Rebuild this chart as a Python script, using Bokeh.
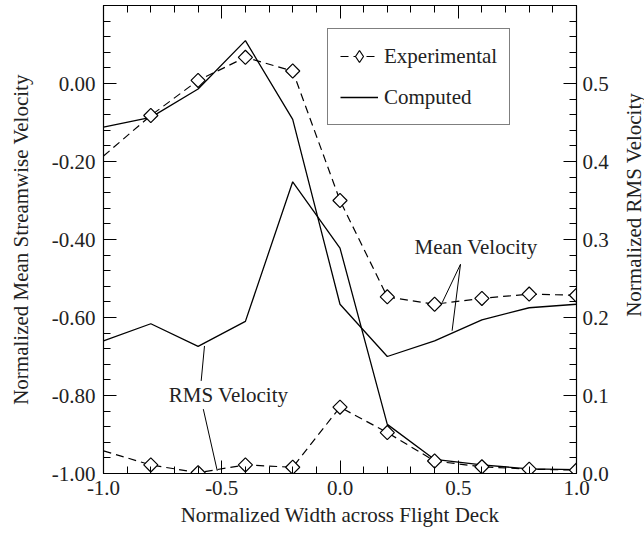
import math
from bokeh.plotting import figure
from bokeh.layouts import row
from bokeh.models import (Range1d, LinearAxis, FixedTicker, PrintfTickFormatter,
                          Legend, LegendItem)
from bokeh.embed import file_html
from bokeh.resources import INLINE
from bokeh.core.properties import value

# ---- data ----
x = [-1.0, -0.8, -0.6, -0.4, -0.2, 0.0, 0.2, 0.4, 0.6, 0.8, 1.0]
exp_mean = [-0.186, -0.082, 0.008, 0.067, 0.032, -0.300, -0.547, -0.566, -0.551, -0.540, -0.543]
comp_mean = [-0.112, -0.087, -0.014, 0.110, -0.092, -0.566, -0.700, -0.660, -0.606, -0.575, -0.566]
exp_rms = [0.029, 0.011, 0.001, 0.011, 0.008, 0.085, 0.0525, 0.016, 0.0086, 0.0056, 0.0044]
comp_rms = [0.170, 0.192, 0.163, 0.195, 0.374, 0.289, 0.063, 0.018, 0.011, 0.006, 0.005]
marker_x = x[1:]

# tick definitions
x_ticks = [-1.0, -0.5, 0.0, 0.5, 1.0]
x_minor = [round(-1.0 + 0.1 * i, 2) for i in range(21)]
left_ticks = [-1.0, -0.8, -0.6, -0.4, -0.2, 0.0]
left_minor = [round(-1.0 + 0.04 * i, 2) for i in range(31)]
right_ticks = [0.0, 0.1, 0.2, 0.3, 0.4, 0.5]
right_minor = [round(0.02 * i, 2) for i in range(31)]

# texts
x_title = "Normalized Width across Flight Deck"
left_title = "Normalized Mean Streamwise Velocity"
right_title = "Normalized RMS Velocity"
ann_text = ["Mean Velocity", "RMS Velocity"]
ann_x = [0.575, -0.471]
ann_y = [-0.419, -0.798]
ptr_x0 = [0.5095, 0.5095, -0.573, -0.578]
ptr_y0 = [-0.4636, -0.4636, -0.673, -0.835]
ptr_x1 = [0.432, 0.474, -0.587, -0.519]
ptr_y1 = [-0.562, -0.634, -0.7626, -0.993]

FONT = "Liberation Serif"
FS = "21px"
TXT = "#222222"

W_MAIN = 612
W_SIDE = 644 - W_MAIN
H = 533

p = figure(width=W_MAIN, height=H, x_range=Range1d(-1.0, 1.0), y_range=Range1d(-1.0, 0.2),
           output_backend="svg", toolbar_location=None,
           min_border_left=103, min_border_right=36, min_border_top=5, min_border_bottom=60)
p.extra_y_ranges = {"rms": Range1d(0.0, 0.6)}
p.xgrid.visible = False
p.ygrid.visible = False
p.outline_line_color = "black"
p.background_fill_color = "white"
p.border_fill_color = "white"

def style_axis(ax):
    ax.axis_line_color = "black"
    ax.axis_line_width = 1.2
    ax.major_tick_line_color = "black"
    ax.minor_tick_line_color = "black"
    ax.major_tick_in = 13
    ax.major_tick_out = 0
    ax.minor_tick_in = 7
    ax.minor_tick_out = 0
    ax.major_label_text_font = FONT
    ax.major_label_text_font_size = FS
    ax.major_label_text_color = TXT
    ax.axis_label_text_font = FONT
    ax.axis_label_text_font_size = FS
    ax.axis_label_text_font_style = "normal"
    ax.axis_label_text_color = TXT

xa = p.xaxis[0]
xa.ticker = FixedTicker(ticks=x_ticks, minor_ticks=x_minor)
xa.formatter = PrintfTickFormatter(format="%.1f")
xa.axis_label = x_title
style_axis(xa)
xa.major_label_standoff = 7
xa.axis_label_standoff = 5

ya = p.yaxis[0]
ya.ticker = FixedTicker(ticks=left_ticks, minor_ticks=left_minor)
ya.formatter = PrintfTickFormatter(format="%.2f")
ya.axis_label = left_title
style_axis(ya)
ya.major_label_standoff = 8
ya.axis_label_standoff = 16

ra = LinearAxis(y_range_name="rms", ticker=FixedTicker(ticks=right_ticks, minor_ticks=right_minor),
                formatter=PrintfTickFormatter(format="%.1f"))
style_axis(ra)
ra.major_label_standoff = 6
p.add_layout(ra, "right")

ta = LinearAxis(ticker=FixedTicker(ticks=x_ticks, minor_ticks=x_minor))
style_axis(ta)
ta.major_label_overrides = {t: "" for t in x_ticks}
ta.major_label_standoff = 0
p.add_layout(ta, "above")

# ---- data marks ----
r_em = p.line(x, exp_mean, line_color="black", line_width=1.2, line_dash="8 5")
r_er = p.line(x, exp_rms, line_color="black", line_width=1.2, line_dash="8 5", y_range_name="rms")
r_cm = p.line(x, comp_mean, line_color="black", line_width=1.3)
r_cr = p.line(x, comp_rms, line_color="black", line_width=1.3, y_range_name="rms")
r_mm = p.scatter(marker_x, exp_mean[1:], marker="square", angle=math.pi / 4, size=10,
                 fill_color="white", line_color="black", line_width=1.2)
r_mr = p.scatter(marker_x, exp_rms[1:], marker="square", angle=math.pi / 4, size=10,
                 fill_color="white", line_color="black", line_width=1.2, y_range_name="rms")

p.segment(ptr_x0, ptr_y0, ptr_x1, ptr_y1, line_color="black", line_width=1)
p.text(ann_x, ann_y, text=ann_text, text_font=value(FONT), text_font_size=FS,
       text_align="center", text_baseline="middle", text_color=TXT)

# legend proxy: a diamond glyph whose single point is NaN (never drawn in the plot)
r_leg = p.scatter([float("nan")], [float("nan")], marker="diamond", size=14,
                  fill_color="white", line_color="black", line_width=1.2)

legend = Legend(items=[LegendItem(label="Experimental", renderers=[r_em, r_leg]),
                       LegendItem(label="Computed", renderers=[r_cm])],
                location=(224, 348))
legend.border_line_color = "black"
legend.border_line_width = 1
legend.background_fill_alpha = 1
legend.label_text_font = FONT
legend.label_text_font_size = FS
legend.label_text_color = TXT
legend.glyph_width = 38
legend.glyph_height = 30
legend.label_height = 30
legend.label_width = 110
legend.label_standoff = 6
legend.spacing = 11
legend.padding = 12
legend.margin = 0
p.add_layout(legend)

# ---- narrow side strip holding the right-hand title (reads bottom-to-top) ----
side = figure(width=W_SIDE, height=H, x_range=Range1d(0, W_SIDE), y_range=Range1d(0, H),
              output_backend="svg", toolbar_location=None,
              x_axis_location=None, y_axis_location=None,
              min_border_left=0, min_border_right=0, min_border_top=0, min_border_bottom=0)
side.xgrid.visible = False
side.ygrid.visible = False
side.outline_line_color = None
side.background_fill_color = "white"
side.border_fill_color = "white"
side.text([21], [H - 227], text=[right_title], angle=math.pi / 2,
          text_font=value(FONT), text_font_size=FS,
          text_align="center", text_baseline="middle", text_color=TXT)

layout = row(p, side, spacing=0)
open("out.html", "w").write(file_html(layout, INLINE))
